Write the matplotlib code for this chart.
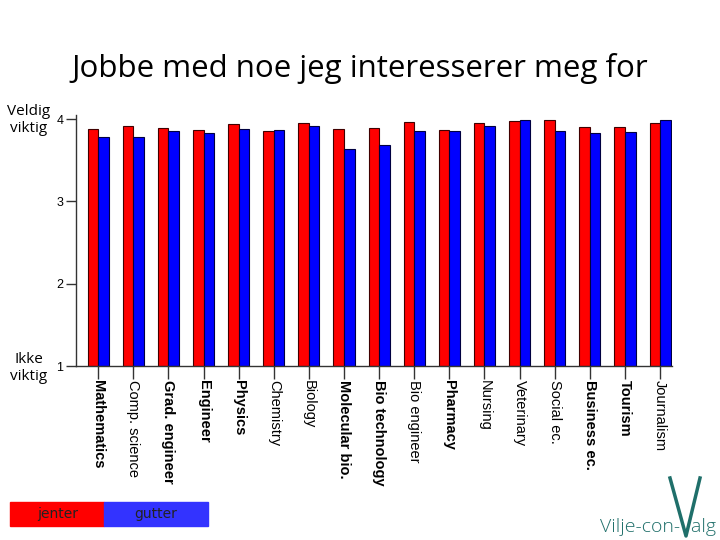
import matplotlib
matplotlib.use("Agg")
import matplotlib.pyplot as plt
import matplotlib.patches as mpatches
import numpy as np

categories = ["Mathematics", "Comp. science", "Grad. engineer", "Engineer", "Physics",
              "Chemistry", "Biology", "Molecular bio.", "Bio technology", "Bio engineer",
              "Pharmacy", "Nursing", "Veterinary", "Social ec.", "Business ec.",
              "Tourism", "Journalism"]
bold_labels = {"Mathematics", "Grad. engineer", "Engineer", "Physics", "Molecular bio.",
               "Bio technology", "Pharmacy", "Business ec.", "Tourism"}
jenter = [3.88, 3.92, 3.89, 3.87, 3.94, 3.86, 3.95, 3.88, 3.89,
          3.96, 3.87, 3.95, 3.97, 3.99, 3.90, 3.90, 3.95]
gutter = [3.78, 3.78, 3.86, 3.83, 3.88, 3.87, 3.92, 3.64, 3.68,
          3.86, 3.86, 3.92, 3.99, 3.85, 3.83, 3.84, 3.99]
yticks = [1, 2, 3, 4]

fig = plt.figure(figsize=(7.2, 5.4), dpi=100)
ax = fig.add_axes([0.1056, 0.3222, 0.8278, 0.465])

x = np.arange(len(categories))
w = 0.30
ax.bar(x - w / 2, np.array(jenter) - 1, w, bottom=1, color="#ff0000",
       edgecolor="#400000", linewidth=0.8)
ax.bar(x + w / 2, np.array(gutter) - 1, w, bottom=1, color="#0000ff",
       edgecolor="#000040", linewidth=0.8)

ax.set_xlim(-0.63, len(categories) - 1 + 0.34)
ax.set_ylim(1, 4.05)
for s in ["top", "right"]:
    ax.spines[s].set_visible(False)
for s in ["left", "bottom"]:
    ax.spines[s].set_color("#333333")
    ax.spines[s].set_linewidth(1.0)

ax.set_yticks(yticks)
ax.set_yticklabels([str(v) for v in yticks], fontsize=9, family="Liberation Sans")
ax.tick_params(axis="y", length=7, width=1, color="#333333", pad=2)
ax.set_xticks(x)
ax.set_xticklabels(categories, rotation=270, fontsize=10.5, family="Liberation Sans",
                   va="top", ha="center")
for lbl in ax.get_xticklabels():
    if lbl.get_text() in bold_labels:
        lbl.set_fontweight("bold")
ax.tick_params(axis="x", length=9, width=1, color="#333333", pad=1)

fig.text(0.5, 1 - 68 / 540, "Jobbe med noe jeg interesserer meg for", ha="center",
         va="center", fontsize=22.5, family="Open Sans")
fig.text(29 / 720, 1 - 120 / 540, "Veldig\nviktig", ha="center", va="center",
         fontsize=11, family="Open Sans", linespacing=1.25)
fig.text(29 / 720, 1 - 368 / 540, "Ikke\nviktig", ha="center", va="center",
         fontsize=11, family="Open Sans", linespacing=1.25)

# legend boxes
fig.patches.append(mpatches.Rectangle((10 / 720, 1 - 526 / 540), 94 / 720, 24 / 540,
                                      transform=fig.transFigure, color="#ff0000"))
fig.patches.append(mpatches.Rectangle((104 / 720, 1 - 526 / 540), 104 / 720, 24 / 540,
                                      transform=fig.transFigure, color="#3333ff"))
fig.text(58 / 720, 1 - 514 / 540, "jenter", ha="center", va="center", fontsize=10,
         family="Liberation Sans Narrow", color="#222222")
fig.text(156 / 720, 1 - 514 / 540, "gutter", ha="center", va="center", fontsize=10,
         family="Liberation Sans Narrow", color="#222222")

# logo text
fig.text(658 / 720, 1 - 527 / 540, "Vilje-con-Valg", ha="center", va="center",
         fontsize=14, family="Open Sans", color="#1f6f6a", fontweight="light")
fig.lines.append(plt.Line2D([670 / 720, 686 / 720, 700 / 720],
                            [1 - 478 / 540, 1 - 536 / 540, 1 - 478 / 540],
                            transform=fig.transFigure, color="#1f6f6a", linewidth=2.5))

fig.savefig("out.png", dpi=100)
